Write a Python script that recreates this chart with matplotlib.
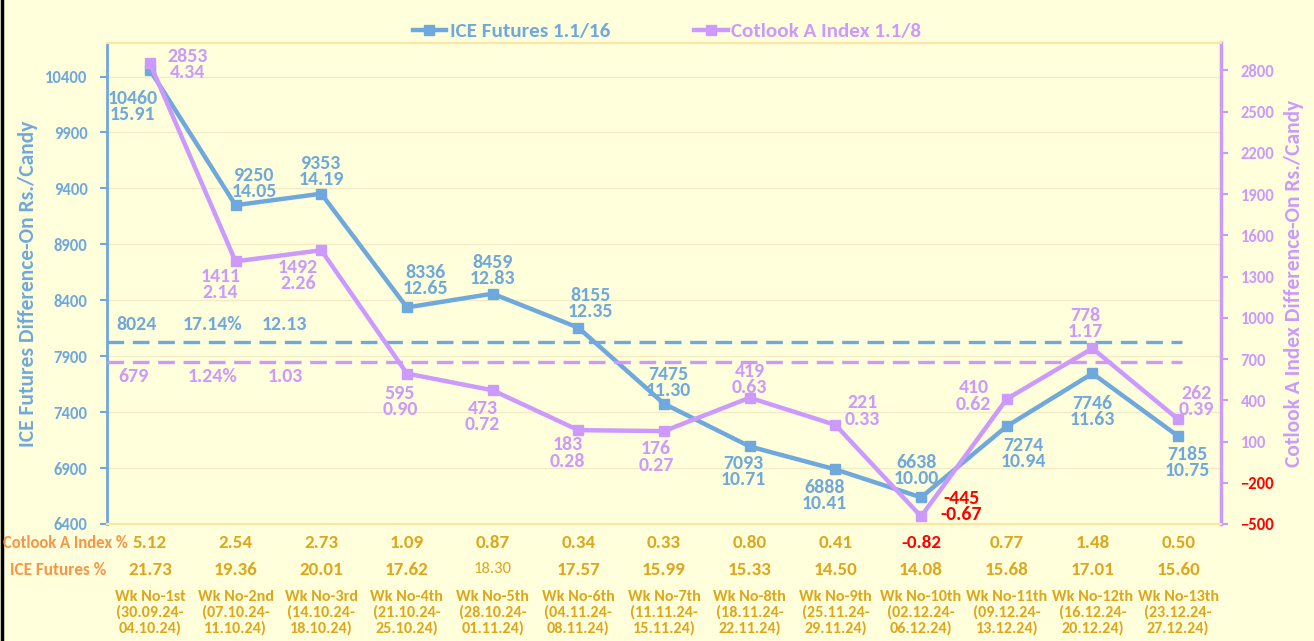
import numpy as np
import matplotlib
matplotlib.use("Agg")
from matplotlib import pyplot as plt
from matplotlib.lines import Line2D

# weekly data
weeks = ["Wk No-1st\n(30.09.24-\n04.10.24)", "Wk No-2nd\n(07.10.24-\n11.10.24)",
         "Wk No-3rd\n(14.10.24-\n18.10.24)", "Wk No-4th\n(21.10.24-\n25.10.24)",
         "Wk No-5th\n(28.10.24-\n01.11.24)", "Wk No-6th\n(04.11.24-\n08.11.24)",
         "Wk No-7th\n(11.11.24-\n15.11.24)", "Wk No-8th\n(18.11.24-\n22.11.24)",
         "Wk No-9th\n(25.11.24-\n29.11.24)", "Wk No-10th\n(02.12.24-\n06.12.24)",
         "Wk No-11th\n(09.12.24-\n13.12.24)", "Wk No-12th\n(16.12.24-\n20.12.24)",
         "Wk No-13th\n(23.12.24-\n27.12.24)"]
ice_diff = [10460, 9250, 9353, 8336, 8459, 8155, 7475, 7093, 6888, 6638, 7274, 7746, 7185]
ice_diff_pct = ["15.91", "14.05", "14.19", "12.65", "12.83", "12.35", "11.30", "10.71",
                "10.41", "10.00", "10.94", "11.63", "10.75"]
cot_diff = [2853, 1411, 1492, 595, 473, 183, 176, 419, 221, -445, 410, 778, 262]
cot_diff_pct = ["4.34", "2.14", "2.26", "0.90", "0.72", "0.28", "0.27", "0.63",
                "0.33", "-0.67", "0.62", "1.17", "0.39"]
cot_row = ["5.12", "2.54", "2.73", "1.09", "0.87", "0.34", "0.33", "0.80", "0.41",
           "-0.82", "0.77", "1.48", "0.50"]
ice_row = ["21.73", "19.36", "20.01", "17.62", "18.30", "17.57", "15.99", "15.33",
           "14.50", "14.08", "15.68", "17.01", "15.60"]
ice_avg = 8024
ice_avg_txt = ["8024", "17.14%", "12.13"]
cot_avg = 679
cot_avg_txt = ["679", "1.24%", "1.03"]

BG = "#FFFFDC"
BLUE = "#6FA8DC"
PURPLE = "#CC99FF"
GOLD = "#DDA61C"
ORANGE = "#F79646"
RED = "#FF0000"

plt.rcParams['font.family'] = ['Carlito', 'DejaVu Sans']
plt.rcParams['font.weight'] = 'bold'
plt.rcParams['axes.labelweight'] = 'bold'

W, H = 1314, 641
fig = plt.figure(figsize=(W / 100, H / 100), dpi=100, facecolor=BG)
ax = fig.add_axes([107 / W, 1 - 524 / H, (1221 - 107) / W, (524 - 43) / H])
ax.set_facecolor(BG)
ax2 = ax.twinx()

x = np.arange(len(weeks))

ax.plot(x, ice_diff, color=BLUE, lw=3.2, marker="s", ms=6.5, zorder=3,
        label="ICE Futures 1.1/16")
ax2.plot(x, cot_diff, color=PURPLE, lw=3.2, marker="s", ms=6.5, zorder=3,
         label="Cotlook A Index 1.1/8")
ax.hlines(ice_avg, -0.5, 12.05, colors=BLUE, lw=2.4, linestyles=(0, (5, 2.6)), zorder=2)
ax2.hlines(cot_avg, -0.5, 12.05, colors=PURPLE, lw=2.4, linestyles=(0, (5, 2.6)), zorder=2)

ax.set_xlim(-0.5, 12.5)
ax.set_ylim(6400, 10700)
ax2.set_ylim(-500, 3000)
ax.set_yticks(np.arange(6400, 10401, 500))
ax2.set_yticks(np.arange(-500, 2801, 300))
ax.set_xticks([])
ax.grid(axis="y", color="#F2EBC6", lw=1)
ax.set_axisbelow(True)

for a in (ax, ax2):
    for s in a.spines.values():
        s.set_color("#FCE6A4")
        s.set_linewidth(1.5)
ax.spines["left"].set_color(BLUE)
ax.spines["left"].set_linewidth(2)
ax2.spines["right"].set_color(PURPLE)
ax2.spines["right"].set_linewidth(2.5)
ax2.spines["left"].set_visible(False)

ax.tick_params(axis="y", colors=BLUE, labelsize=12, length=5, width=1.5, pad=9)
ax2.tick_params(axis="y", colors=PURPLE, labelsize=12, length=5, width=1.5, pad=9)
fig.canvas.draw()
for lab in ax.get_yticklabels():
    lab.set_fontweight("bold")
for lab, v in zip(ax2.get_yticklabels(), ax2.get_yticks()):
    lab.set_fontweight("bold")
    if v < 0:
        lab.set_color(RED)

ax.set_ylabel("ICE Futures Difference-On Rs./Candy", color=BLUE, fontsize=15.5,
              fontweight="bold", labelpad=5)
ax2.set_ylabel("Cotlook A Index Difference-On Rs./Candy", color=PURPLE, fontsize=15.5,
               fontweight="bold", labelpad=7)

# data labels (pixel offsets from each point)
ice_off = [(-17, -37), (19, 22), (0, 22), (19, 27), (0, 23), (12, 24), (4, 21),
           (-6, -25), (-11, -26), (-5, 27), (17, -27), (0, -38), (9, -26)]
cot_off = [(38, -1), (-15, -23), (-23, -25), (-7, -28), (-10, -26), (-11, -23), (-8, -26),
           (0, 18), (27, 14), (40, 10), (-33, 3), (-7, 25), (18, 18)]
for i in range(len(x)):
    ax.annotate(f"{ice_diff[i]}\n{ice_diff_pct[i]}", (x[i], ice_diff[i]),
                xytext=ice_off[i], textcoords="offset pixels", ha="center", va="center",
                color=BLUE, fontsize=14.3, fontweight="bold", linespacing=0.95, zorder=4)
    c = RED if cot_diff[i] < 0 else PURPLE
    ax2.annotate(f"{cot_diff[i]}\n{cot_diff_pct[i]}", (x[i], cot_diff[i]),
                 xytext=cot_off[i], textcoords="offset pixels", ha="center", va="center",
                 color=c, fontsize=14.3, fontweight="bold", linespacing=0.95, zorder=4)

for t, dx in zip(ice_avg_txt, [-13, 63, 135]):
    ax.annotate(t, (0, ice_avg), xytext=(dx, 18), textcoords="offset pixels",
                ha="center", va="center", color=BLUE, fontsize=14.3, fontweight="bold")
for t, dx in zip(cot_avg_txt, [-16, 63, 135]):
    ax2.annotate(t, (0, cot_avg), xytext=(dx, -15), textcoords="offset pixels",
                 ha="center", va="center", color=PURPLE, fontsize=14.3, fontweight="bold")

# table rows below the plot
tr = ax.get_xaxis_transform()
for i in range(len(x)):
    ax.text(x[i], -0.0395, cot_row[i], transform=tr, ha="center", va="center",
            color=RED if cot_row[i].startswith("-") else GOLD, fontsize=13.7,
            fontweight="bold")
    if ice_row[i] == "18.30":
        ax.text(x[i], -0.0935, ice_row[i], transform=tr, ha="center", va="center",
                color=GOLD, fontsize=12, fontweight="normal")
    else:
        ax.text(x[i], -0.0956, ice_row[i], transform=tr, ha="center", va="center",
                color=GOLD, fontsize=13.7, fontweight="bold")
    ax.text(x[i], -0.184, weeks[i], transform=tr, ha="center", va="center",
            color=GOLD, fontsize=11.6, fontweight="bold", linespacing=1.1)
fig.text(3 / W, 1 - 543 / H, "Cotlook A Index %", ha="left", va="center",
         color=ORANGE, fontsize=12, fontweight="bold")
fig.text(58 / W, 1 - 570 / H, "ICE Futures %", ha="center", va="center",
         color=ORANGE, fontsize=12.4, fontweight="bold")

h1, _ = ax.get_legend_handles_labels()
h2, _ = ax2.get_legend_handles_labels()
fig.legend(h1 + h2, ["ICE Futures 1.1/16", "Cotlook A Index 1.1/8"], loc="center",
           bbox_to_anchor=(667 / W, 1 - 31 / H), ncol=2, frameon=False,
           prop={"size": 15.2, "weight": "bold"},
           labelcolor="linecolor", handlelength=1.6, handletextpad=0.15,
           columnspacing=4.0, borderpad=0)

fig.add_artist(Line2D([0.0012, 0.0012], [0, 1], color="black", lw=2.5,
                      transform=fig.transFigure))

fig.savefig("out.png", dpi=100, facecolor=BG)
